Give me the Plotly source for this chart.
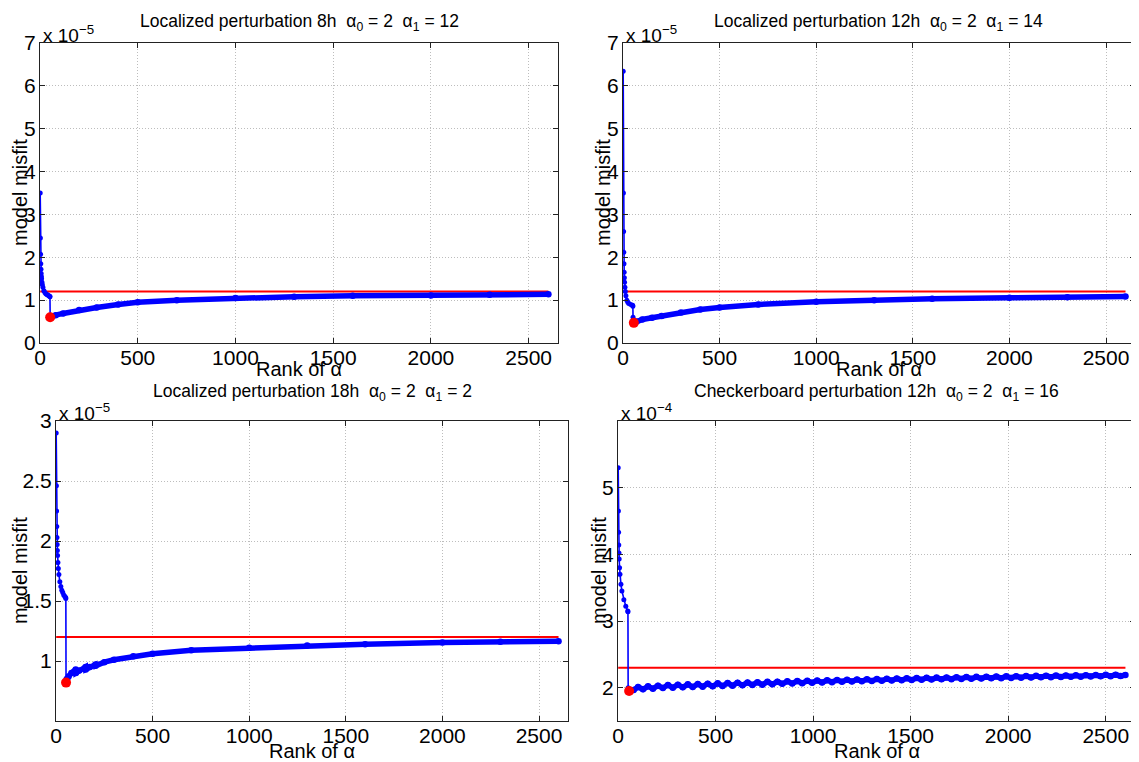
import plotly.graph_objects as go

W, H = 1139, 762
PAGE_OFFSET = 8  # browser body margin
FONT = "Liberation Sans, Arial, Helvetica, sans-serif"

# ---------------- data (misfit values in units of the axis exponent) ----------------
# Top-left: Localized perturbation 8h (x 1e-5)
tl_head_rank = [1, 2, 3, 4, 5, 6, 7, 8, 10, 12, 15, 20, 25, 30, 35, 40, 45, 50, 51]
tl_head_misfit = [3.5, 2.45, 2.07, 1.85, 1.72, 1.62, 1.55, 1.5, 1.42, 1.36, 1.3, 1.22, 1.18,
                  1.15, 1.13, 1.12, 1.1, 1.09, 1.08]
tl_tail_rank = [52, 60, 80, 118, 200, 290, 400, 500, 700, 1000, 1300, 1600, 2000, 2300, 2601]
tl_tail_misfit = [0.6, 0.62, 0.65, 0.69, 0.77, 0.83, 0.9, 0.95, 1.0, 1.05, 1.08, 1.1, 1.11,
                  1.125, 1.135]
tl_best = (52, 0.6)
tl_threshold = 1.2

# Top-right: Localized perturbation 12h (x 1e-5)
tr_head_rank = [1, 2, 3, 4, 5, 6, 7, 8, 10, 12, 15, 20, 25, 30, 40, 50, 51, 52]
tr_head_misfit = [6.34, 3.5, 2.6, 2.12, 1.85, 1.65, 1.52, 1.42, 1.3, 1.2, 1.1, 1.0, 0.95,
                  0.92, 0.9, 0.88, 0.86, 0.6]
tr_tail_rank = [56, 70, 100, 150, 200, 300, 400, 500, 700, 1000, 1300, 1600, 2000, 2300, 2601]
tr_tail_misfit = [0.47, 0.5, 0.55, 0.59, 0.63, 0.71, 0.78, 0.83, 0.9, 0.96, 1.0, 1.03, 1.055,
                  1.07, 1.085]
tr_best = (56, 0.47)
tr_threshold = 1.2

# Bottom-left: Localized perturbation 18h (x 1e-5)
bl_head_rank = [1, 2, 3, 4, 5, 6, 7, 8, 10, 12, 15, 20, 25, 30, 35, 40, 45, 50, 51]
bl_head_misfit = [2.9, 2.46, 2.25, 2.12, 2.03, 1.97, 1.92, 1.88, 1.82, 1.77, 1.72, 1.66, 1.62,
                  1.59, 1.57, 1.55, 1.54, 1.53, 1.52]
bl_tail_rank = [52, 56, 65, 80, 102, 103, 120, 153, 154, 175, 204, 205, 250, 300, 400, 500,
                700, 1000, 1300, 1600, 2000, 2300, 2601]
bl_tail_misfit = [0.82, 0.85, 0.87, 0.9, 0.93, 0.9, 0.92, 0.95, 0.93, 0.95, 0.97, 0.96, 0.99,
                  1.01, 1.04, 1.06, 1.09, 1.11, 1.13, 1.14, 1.155, 1.16, 1.165]
bl_best = (52, 0.82)
bl_threshold = 1.2

# Bottom-right: Checkerboard perturbation 12h (x 1e-4)
br_head_rank = [1, 2, 3, 4, 5, 6, 8, 10, 15, 20, 30, 40, 50, 51, 52]
br_head_misfit = [5.3, 4.65, 4.33, 4.14, 4.02, 3.93, 3.8, 3.7, 3.55, 3.45, 3.32, 3.22, 3.15,
                  3.14, 2.0]
br_tail_rank = [56, 80, 103, 128, 154, 179, 205, 230, 256, 281, 307, 332, 358, 383, 409, 434,
                460, 485, 511, 536, 562, 587, 613, 638, 664, 689, 715, 740, 766, 791, 817, 842,
                868, 893, 919, 944, 970, 995, 1021, 1046, 1072, 1097, 1123, 1148, 1174, 1199,
                1225, 1250, 1276, 1301, 1327, 1352, 1378, 1403, 1429, 1454, 1480, 1505, 1531,
                1556, 1582, 1607, 1633, 1658, 1684, 1709, 1735, 1760, 1786, 1811, 1837, 1862,
                1888, 1913, 1939, 1964, 1990, 2015, 2041, 2066, 2092, 2117, 2143, 2168, 2194,
                2219, 2245, 2270, 2296, 2321, 2347, 2372, 2398, 2423, 2449, 2474, 2500, 2525,
                2551, 2576, 2601]
br_tail_misfit = [1.96, 1.965, 2.01, 1.975, 2.02, 1.985, 2.03, 1.995, 2.04, 2.0, 2.045, 2.005,
                  2.05, 2.01, 2.055, 2.015, 2.06, 2.02, 2.065, 2.025, 2.07, 2.03, 2.075, 2.035,
                  2.078, 2.04, 2.082, 2.045, 2.087, 2.05, 2.09, 2.057, 2.095, 2.063, 2.1, 2.068,
                  2.104, 2.073, 2.108, 2.078, 2.112, 2.083, 2.116, 2.088, 2.12, 2.092, 2.124,
                  2.096, 2.128, 2.1, 2.131, 2.104, 2.135, 2.108, 2.138, 2.112, 2.142, 2.115,
                  2.145, 2.119, 2.148, 2.122, 2.151, 2.125, 2.154, 2.128, 2.157, 2.131, 2.16,
                  2.134, 2.162, 2.137, 2.165, 2.14, 2.167, 2.143, 2.17, 2.146, 2.172, 2.149,
                  2.175, 2.152, 2.177, 2.155, 2.18, 2.158, 2.182, 2.16, 2.184, 2.163, 2.186,
                  2.165, 2.188, 2.168, 2.19, 2.17, 2.192, 2.172, 2.194, 2.174, 2.19]
br_best = (57, 1.95)
br_threshold = 2.3

titles = [
    "Localized perturbation 8h\u00a0\u00a0α<sub>0</sub> = 2\u00a0\u00a0α<sub>1</sub> = 12",
    "Localized perturbation 12h\u00a0\u00a0α<sub>0</sub> = 2\u00a0\u00a0α<sub>1</sub> = 14",
    "Localized perturbation 18h\u00a0\u00a0α<sub>0</sub> = 2\u00a0\u00a0α<sub>1</sub> = 2",
    "Checkerboard perturbation 12h\u00a0\u00a0α<sub>0</sub> = 2\u00a0\u00a0α<sub>1</sub> = 16",
]
exponents = ["−5", "−5", "−5", "−4"]
x_ticks = [0, 500, 1000, 1500, 2000, 2500]
y_ticks = [
    [0, 1, 2, 3, 4, 5, 6, 7],
    [0, 1, 2, 3, 4, 5, 6, 7],
    [1, 1.5, 2, 2.5, 3],
    [2, 3, 4, 5],
]
y_ranges = [[0, 7], [0, 7], [0.5, 3], [1.5, 6]]
x_range = [0, 2650]

panels_data = [
    (tl_head_rank, tl_head_misfit, tl_tail_rank, tl_tail_misfit, tl_best, tl_threshold),
    (tr_head_rank, tr_head_misfit, tr_tail_rank, tr_tail_misfit, tr_best, tr_threshold),
    (bl_head_rank, bl_head_misfit, bl_tail_rank, bl_tail_misfit, bl_best, bl_threshold),
    (br_head_rank, br_head_misfit, br_tail_rank, br_tail_misfit, br_best, br_threshold),
]

# ---------------- layout geometry (screen pixels: left, right, top, bottom) ----------------
boxes = [(40, 558, 43, 343), (623, 1135, 43, 343), (56, 568, 421, 721), (618, 1135, 421, 721)]
ylab_x = [20, 603, 20, 599]
title_y = [22, 22, 392, 392]


def px(x):
    return (x - PAGE_OFFSET) / W


def py(y):
    return 1 - (y - PAGE_OFFSET) / H


BLUE = "#0000FF"
RED = "#FF0000"

fig = go.Figure()
annotations = []
layout_axes = {}

for i, (hr, hm, trk, tm, best, thr) in enumerate(panels_data):
    n = i + 1
    xa = "x" if n == 1 else f"x{n}"
    ya = "y" if n == 1 else f"y{n}"
    L, R, T, B = boxes[i]

    fig.add_trace(go.Scatter(x=[hr[0], trk[-1]], y=[thr, thr], mode="lines",
                             line=dict(color=RED, width=2), xaxis=xa, yaxis=ya,
                             showlegend=False, hoverinfo="skip"))
    fig.add_trace(go.Scatter(x=hr + trk, y=hm + tm, mode="lines+markers",
                             line=dict(color=BLUE, width=1.6),
                             marker=dict(color=BLUE, size=5), xaxis=xa, yaxis=ya,
                             showlegend=False))
    fig.add_trace(go.Scatter(x=trk, y=tm, mode="lines+markers",
                             line=dict(color=BLUE, width=5.5),
                             marker=dict(color=BLUE, size=6.5), xaxis=xa, yaxis=ya,
                             showlegend=False))
    fig.add_trace(go.Scatter(x=[best[0]], y=[best[1]], mode="markers",
                             marker=dict(color=RED, size=10), xaxis=xa, yaxis=ya,
                             showlegend=False))

    axcommon = dict(showline=True, linecolor="#222222", linewidth=1, mirror="ticks",
                    ticks="inside", ticklen=5, tickcolor="#222222", automargin=False,
                    showgrid=True, gridcolor="#bdbdbd", griddash="1px,2px", gridwidth=1,
                    zeroline=False, tickfont=dict(family=FONT, size=21, color="black"))
    layout_axes["xaxis" if n == 1 else f"xaxis{n}"] = dict(
        axcommon, domain=[px(L), px(R)], range=x_range, tickvals=x_ticks, anchor=ya,
        ticklabelstandoff=-4)
    layout_axes["yaxis" if n == 1 else f"yaxis{n}"] = dict(
        axcommon, domain=[py(B), py(T)], range=y_ranges[i], tickvals=y_ticks[i], anchor=xa,
        ticklabelstandoff=-1)

    cx = (L + R) / 2
    annotations.append(dict(text=titles[i], x=px(cx), y=py(title_y[i]), xref="paper",
                            yref="paper", showarrow=False, xanchor="center",
                            yanchor="middle", font=dict(family=FONT, size=17.5, color="black")))
    annotations.append(dict(text="Rank of α", x=px(cx), y=py(B + 26 if i < 2 else B + 30),
                            xref="paper", yref="paper", showarrow=False, xanchor="center",
                            yanchor="middle", font=dict(family=FONT, size=20, color="black")))
    annotations.append(dict(text="model misfit", x=px(ylab_x[i]), y=py((T + B) / 2),
                            xref="paper", yref="paper", showarrow=False, textangle=-90,
                            xanchor="center", yanchor="middle",
                            font=dict(family=FONT, size=20, color="black")))
    annotations.append(dict(text=f"x 10<sup>{exponents[i]}</sup>", x=px(L + 1), y=py(T + 5),
                            xref="paper", yref="paper", showarrow=False, xanchor="left",
                            yanchor="bottom", font=dict(family=FONT, size=19, color="black")))

fig.update_layout(width=W, height=H, margin=dict(l=0, r=0, t=0, b=0, pad=0),
                  autosize=False, paper_bgcolor="white", plot_bgcolor="white",
                  annotations=annotations, **layout_axes)

fig.write_html("out.html")
